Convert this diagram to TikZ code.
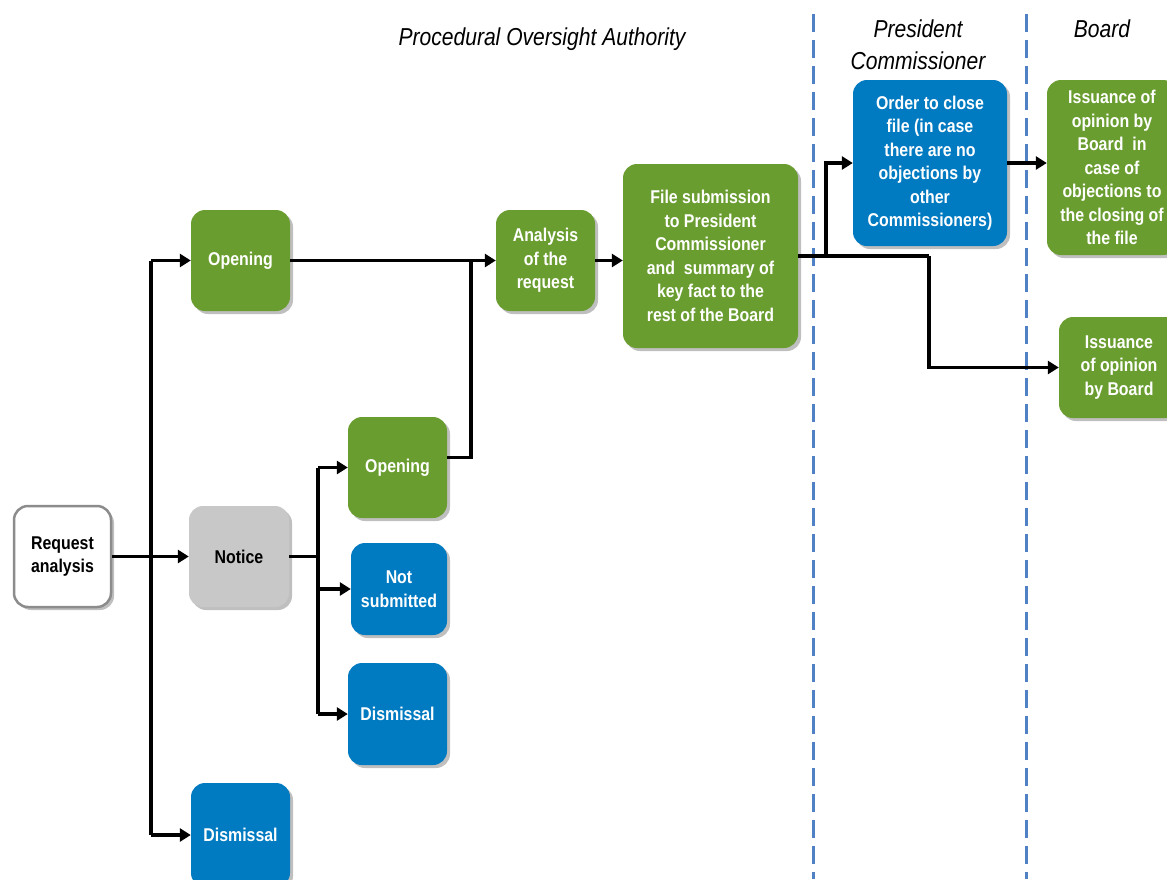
\documentclass[tikz,border=0pt]{standalone}
\usepackage{fontspec}
\setmainfont[FakeStretch=0.86]{Liberation Sans}
\usetikzlibrary{arrows.meta,shadows}
\definecolor{bgreen}{RGB}{106,157,47}
\definecolor{bblue}{RGB}{0,122,193}
\definecolor{bgrey}{RGB}{200,200,200}
\definecolor{dashblue}{RGB}{79,129,196}
\tikzset{
  box/.style={rounded corners=14pt, inner sep=2pt, align=center, text=white,
    font=\bfseries\fontsize{18.5}{23.5}\selectfont,
    drop shadow={shadow xshift=3pt, shadow yshift=-3pt, opacity=0.25, fill=black}},
  gbox/.style={box, fill=bgreen},
  bbox/.style={box, fill=bblue},
  conn/.style={line width=3.3pt, draw=black},
  arr/.style={conn, -{Triangle[length=11pt,width=13pt]}},
  lane/.style={line width=3pt, draw=dashblue, dash pattern=on 18pt off 8pt},
  head/.style={font=\itshape\fontsize{24.5}{32}\selectfont, align=center, text=black}
}
\begin{document}
\begin{tikzpicture}[x=1pt,y=-1pt]
\fill[white] (0,0) rectangle (1167,879);
\useasboundingbox (0,0) rectangle (1167,879);

% swimlane separators
\draw[lane] (813,14) -- (813,879);
\draw[lane] (1026,14) -- (1026,879);

% headers
\node[head] (h1) at (542,39) {Procedural Oversight Authority};
\node[head] (h2) at (918,45) {President\\Commissioner};
\node[head] (h3) at (1102,29) {Board};

% boxes
\node[box, fill=white, draw=gray!90, line width=2.5pt, text=black, minimum width=97pt, minimum height=101pt] (req) at (62.5,556.5) {Request\\analysis};
\node[gbox, minimum width=99pt, minimum height=101pt] (open1) at (240.5,260.5) {Opening};
\node[box, fill=bgrey, text=black, minimum width=100pt, minimum height=101pt] (notice) at (239,556.5) {Notice};
\node[bbox, minimum width=99pt, minimum height=104pt] (dis1) at (240.5,835) {Dismissal};
\node[gbox, minimum width=99pt, minimum height=101pt] (open2) at (397.5,467.5) {Opening};
\node[bbox, minimum width=96pt, minimum height=92pt] (notsub) at (399,589) {Not\\submitted};
\node[bbox, minimum width=99pt, minimum height=102pt] (dis2) at (397.5,714) {Dismissal};
\node[gbox, minimum width=99pt, minimum height=101pt] (anal) at (545.5,260.5) {Analysis\\of the\\request};
\node[gbox, minimum width=175pt, minimum height=184pt] (file) at (710.5,256) {File submission\\to President\\Commissioner\\and\ \ summary of\\key fact to the\\rest of the Board};
\node[bbox, minimum width=154pt, minimum height=166pt] (order) at (930,163) {Order to close\\file (in case\\there are no\\objections by\\other\\Commissioners)};
\node[gbox, minimum width=130pt, minimum height=175pt] (iss1) at (1112,167.5) {Issuance of\\opinion by\\Board\ \ in\\case of\\objections to\\the closing of\\the file};
\node[gbox, minimum width=120pt, minimum height=101pt] (iss2) at (1119,367.5) {Issuance\\of opinion\\by Board};

% junctions
\coordinate (j1) at (151,556.5);
\coordinate (j2) at (318,556.5);
\coordinate (j3) at (471,260.5);
\coordinate (j4) at (826,256);
\coordinate (j5) at (929,256);

% connectors
\draw[arr] (req.east) -- (notice.west);
\draw[conn] (j1 |- open1.west) -- (j1 |- dis1.west);
\draw[arr] (j1 |- open1.west) -- (open1.west);
\draw[arr] (j1 |- dis1.west) -- (dis1.west);

\draw[conn] (notice.east) -- (j2);
\draw[conn] (j2 |- open2.west) -- (j2 |- dis2.west);
\draw[arr] (j2 |- open2.west) -- (open2.west);
\draw[arr] (j2 |- notsub.west) -- (notsub.west);
\draw[arr] (j2 |- dis2.west) -- (dis2.west);

\draw[arr] (open1.east) -- (anal.west);
\draw[conn] ([yshift=10pt]open2.east) -| (j3);
\draw[arr] (anal.east) -- (anal.east -| file.west);

\draw[conn] (file.east) -- (j5);
\draw[arr] (j4) |- (order.west);
\draw[arr] (j5) |- (iss2.west);
\draw[arr] (order.east) -- (order.east -| iss1.west);
\end{tikzpicture}
\end{document}
